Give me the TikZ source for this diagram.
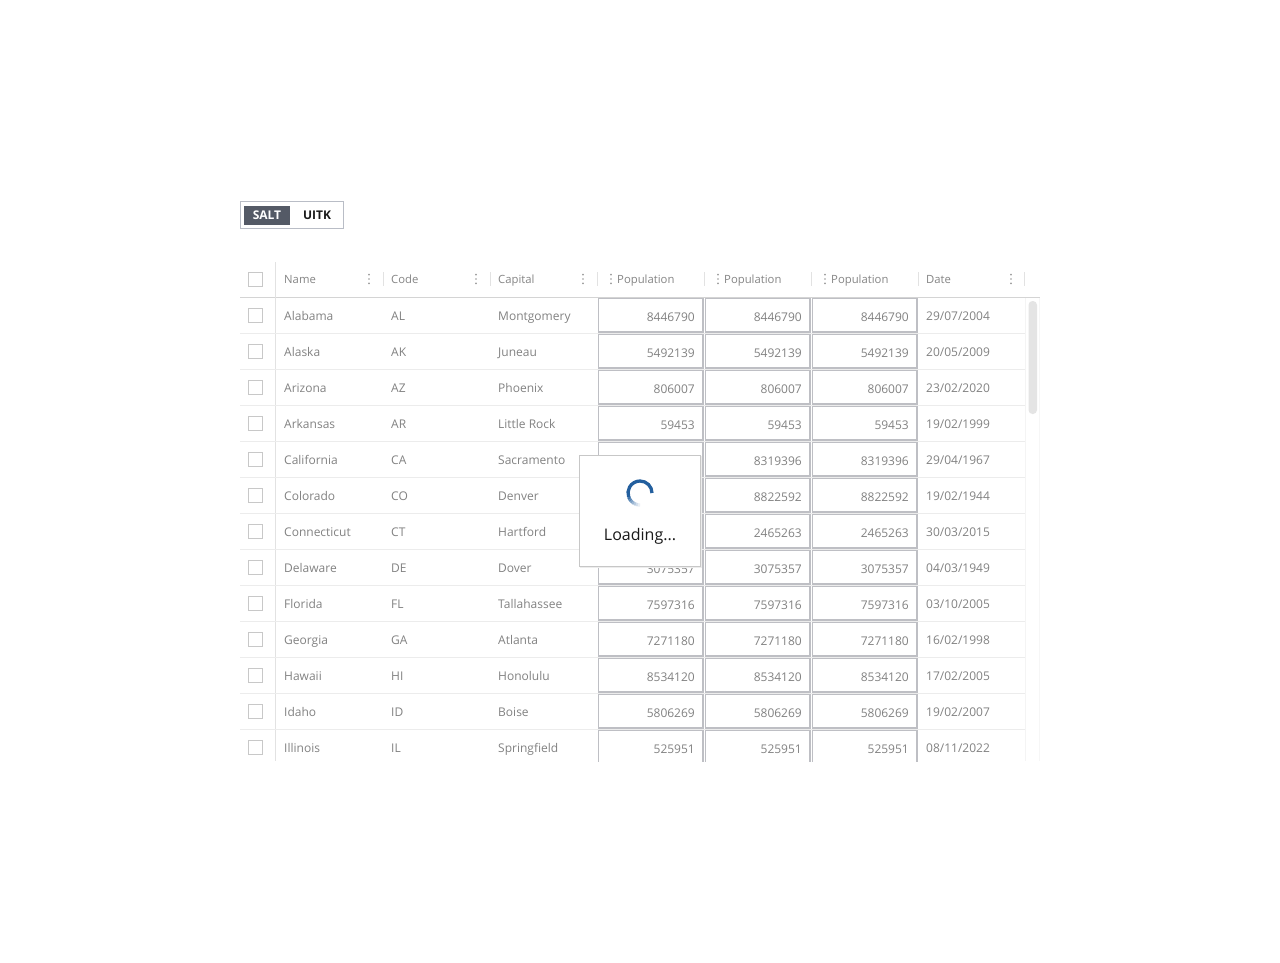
\documentclass[tikz,border=0pt]{standalone}
\usepackage{fontspec}
\setmainfont{Open Sans}
\definecolor{txt}{HTML}{828282}
\definecolor{hdr}{HTML}{858585}
\definecolor{rowline}{HTML}{ECECEC}
\definecolor{hline}{HTML}{D4D4D4}
\definecolor{sep}{HTML}{E2E2E2}
\definecolor{cbox}{HTML}{C8C8C8}
\definecolor{popb}{HTML}{BEBFC4}
\definecolor{dotc}{HTML}{9A9A9A}
\definecolor{saltbg}{HTML}{545A66}
\definecolor{tglb}{HTML}{B9BDC6}
\definecolor{spinblue}{HTML}{235F9E}
\definecolor{thumb}{HTML}{E4E4E4}
\tikzset{
  body/.style={inner sep=0pt, text=txt, font=\fontsize{12}{14}\selectfont},
  head/.style={inner sep=0pt, text=hdr, font=\fontsize{11.3}{13}\selectfont},
  chk/.style={draw=cbox, fill=white, line width=0.9pt},
  popcell/.style={draw=popb, line width=1.3pt, fill=white},
  hsep/.style={draw=sep, line width=0.9pt},
  menudot/.style={fill=dotc, draw=none},
  spin/.style={line width=3.3pt, line cap=butt},
}
\begin{document}
\begin{tikzpicture}[x=1pt,y=-1pt]
\useasboundingbox[fill=white] (0,0) rectangle (1280,962);

% toggle
\draw[tglb, line width=1pt] (240.5,201.5) rectangle (343,228.5);
\fill[saltbg] (244,206) rectangle (290,225);
\node[inner sep=0pt, text=white, font=\fontsize{12}{14}\selectfont\bfseries, anchor=base] (salt) at (267,219.8) {SALT};
\node[inner sep=0pt, text=black!90, font=\fontsize{12}{14}\selectfont\bfseries, anchor=base] (uitk) at (317,219.8) {UITK};

% header
\draw[hline, line width=1pt] (240,297.5) -- (1040,297.5);
\draw[sep, line width=0.9pt] (275.5,262) -- (275.5,761);
\draw[chk] (248.5,272.5) rectangle (262,286);
\node[head, anchor=base west] (hname) at (284,283.5) {Name};
\node[head, anchor=base west] (hcode) at (391,283.5) {Code};
\node[head, anchor=base west] (hcap) at (498,283.5) {Capital};
\node[head, anchor=base west] (hp1) at (617,283.5) {Population};
\node[head, anchor=base west] (hp2) at (724,283.5) {Population};
\node[head, anchor=base west] (hp3) at (831,283.5) {Population};
\node[head, anchor=base west] (hdate) at (926,283.5) {Date};
\foreach \x in {369,476,583,611,718,825,1011}{
  \foreach \yy in {274.6,279,283.4}{
    \fill[menudot] (\x,\yy) circle (0.95);
  }
}
\foreach \x in {383,490,597,704,811,918,1024.5}{
  \draw[hsep] (\x,272) -- (\x,286);
}

% scroll area
\draw[rowline!60, line width=0.8pt] (1025.5,298) -- (1025.5,761);
\draw[rowline!50, line width=0.8pt] (1039.5,298) -- (1039.5,761);
\fill[thumb, rounded corners=4pt] (1028.5,301) rectangle (1037,414);

% body rows
\begin{scope}
\clip (230,298) rectangle (1050,761);
\foreach \i/\nm/\cd/\cp/\pp/\dt in {
 0/Alabama/AL/Montgomery/8446790/{29/07/2004},
 1/Alaska/AK/Juneau/5492139/{20/05/2009},
 2/Arizona/AZ/Phoenix/806007/{23/02/2020},
 3/Arkansas/AR/Little Rock/59453/{19/02/1999},
 4/California/CA/Sacramento/8319396/{29/04/1967},
 5/Colorado/CO/Denver/8822592/{19/02/1944},
 6/Connecticut/CT/Hartford/2465263/{30/03/2015},
 7/Delaware/DE/Dover/3075357/{04/03/1949},
 8/Florida/FL/Tallahassee/7597316/{03/10/2005},
 9/Georgia/GA/Atlanta/7271180/{16/02/1998},
 10/Hawaii/HI/Honolulu/8534120/{17/02/2005},
 11/Idaho/ID/Boise/5806269/{19/02/2007},
 12/Illinois/IL/Springfield/525951/{08/11/2022}}{
  \pgfmathsetmacro\yt{297+36*\i}
  \pgfmathsetmacro\yb{\yt+36}
  \pgfmathsetmacro\ybase{\yt+23}
  \pgfmathsetmacro\nbase{\yt+24.3}
  \pgfmathsetmacro\ct{\yt+11.5}
  \pgfmathsetmacro\cb{\yt+25}
  \pgfmathsetmacro\pt{\yt+1.2}
  \pgfmathsetmacro\pb{\yt+35}
  \draw[rowline, line width=0.9pt] (240,\yb) -- (1025,\yb);
  \draw[chk] (248.5,\ct) rectangle (262,\cb);
  \node[body, anchor=base west] (nm\i) at (284,\ybase) {\nm};
  \node[body, anchor=base west] (cd\i) at (391,\ybase) {\cd};
  \node[body, anchor=base west] (cp\i) at (498,\ybase) {\cp};
  \draw[popcell] (598.2,\pt) rectangle (703,\pb);
  \draw[popcell] (705.2,\pt) rectangle (810,\pb);
  \draw[popcell] (812.2,\pt) rectangle (917,\pb);
  \ifnum\i<4 \node[body, anchor=base east] (pa\i) at (695,\nbase) {\pp};\fi
  \ifnum\i>6 \node[body, anchor=base east] (pa\i) at (695,\nbase) {\pp};\fi
  \node[body, anchor=base east] (pb\i) at (802,\nbase) {\pp};
  \node[body, anchor=base east] (pc\i) at (909,\nbase) {\pp};
  \node[body, anchor=base west] (dt\i) at (926,\ybase) {\dt};
}
\end{scope}

% loading popup
\draw[black!7, line width=2pt] (580.5,456.5) rectangle (701,567);
\draw[draw=black!22, fill=white, line width=0.9pt] (579.5,455.5) rectangle (700,566) node[pos=0.5, inner sep=0pt] (popup) {};
\draw[spin, spinblue] (640,493) ++(0:12) arc[start angle=0, end angle=-200, radius=12];
\foreach \a/\k in {-200/88,-210/74,-220/60,-230/46,-240/33,-250/21,-260/10}{
  \draw[spin, spinblue!\k!white] (640,493) ++(\a:12) arc[start angle=\a, end angle=\a-10.5, radius=12];
}
\node[inner sep=0pt, text=black!90, font=\fontsize{16}{19}\selectfont, anchor=base] (loading) at (640,540) {Loading...};
\end{tikzpicture}
\end{document}
